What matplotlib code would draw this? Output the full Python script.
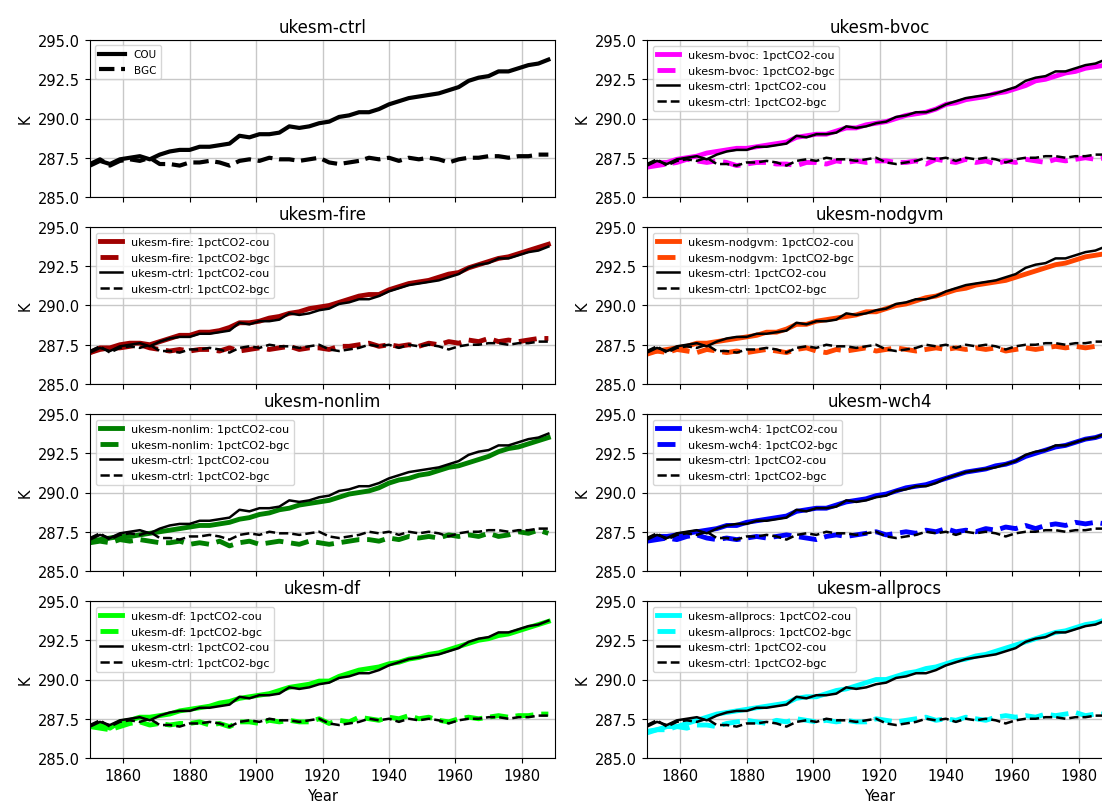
import matplotlib
matplotlib.use("Agg")
import matplotlib.pyplot as plt
import numpy as np

# annual-mean surface temperature (K), read every 3 years starting 1850
year0 = 1850
step = 3

ctrl_cou = [287.0, 287.3, 287.1, 287.4, 287.5, 287.6, 287.4, 287.7, 287.9, 288.0,
            288.0, 288.2, 288.2, 288.3, 288.4, 288.9, 288.8, 289.0, 289.0, 289.1,
            289.5, 289.4, 289.5, 289.7, 289.8, 290.1, 290.2, 290.4, 290.4, 290.6,
            290.9, 291.1, 291.3, 291.4, 291.5, 291.6, 291.8, 292.0, 292.4, 292.6,
            292.7, 293.0, 293.0, 293.2, 293.4, 293.5, 293.75]
ctrl_bgc = [287.1, 287.4, 287.0, 287.3, 287.4, 287.3, 287.5, 287.1, 287.1, 287.0,
            287.2, 287.2, 287.3, 287.2, 287.0, 287.3, 287.4, 287.3, 287.5, 287.4,
            287.4, 287.3, 287.4, 287.5, 287.2, 287.1, 287.2, 287.3, 287.5, 287.4,
            287.5, 287.3, 287.5, 287.4, 287.5, 287.4, 287.2, 287.4, 287.5, 287.5,
            287.6, 287.6, 287.5, 287.6, 287.6, 287.7, 287.7]

bvoc_cou = [287.0, 287.2, 287.2, 287.4, 287.5, 287.6, 287.8, 287.9, 288.0, 288.1,
            288.1, 288.2, 288.3, 288.4, 288.5, 288.8, 288.9, 289.0, 289.0, 289.2,
            289.4, 289.4, 289.6, 289.7, 289.8, 290.0, 290.2, 290.3, 290.4, 290.6,
            290.9, 291.0, 291.2, 291.3, 291.4, 291.6, 291.7, 291.9, 292.1, 292.4,
            292.5, 292.7, 292.9, 293.0, 293.2, 293.3, 293.4]
bvoc_bgc = [286.9, 287.0, 287.1, 287.2, 287.4, 287.3, 287.2, 287.3, 287.2, 287.0,
            287.1, 287.2, 287.2, 287.1, 287.1, 287.0, 287.2, 287.2, 287.1, 287.3,
            287.2, 287.3, 287.2, 287.3, 287.3, 287.2, 287.2, 287.3, 287.1, 287.4,
            287.3, 287.2, 287.4, 287.2, 287.3, 287.1, 287.3, 287.2, 287.4, 287.3,
            287.2, 287.4, 287.3, 287.4, 287.5, 287.4, 287.5]

fire_cou = [287.0, 287.3, 287.3, 287.5, 287.6, 287.6, 287.5, 287.7, 287.9, 288.1,
            288.1, 288.3, 288.3, 288.4, 288.6, 288.9, 288.9, 289.0, 289.2, 289.3,
            289.5, 289.6, 289.8, 289.9, 290.0, 290.2, 290.4, 290.6, 290.7, 290.7,
            291.0, 291.2, 291.4, 291.5, 291.6, 291.8, 292.0, 292.1, 292.4, 292.6,
            292.8, 293.0, 293.1, 293.3, 293.5, 293.7, 293.9]
fire_bgc = [287.0, 287.2, 287.3, 287.3, 287.4, 287.5, 287.3, 287.2, 287.1, 287.2,
            287.1, 287.2, 287.2, 287.1, 287.3, 287.1, 287.2, 287.3, 287.2, 287.3,
            287.4, 287.2, 287.3, 287.3, 287.2, 287.4, 287.4, 287.5, 287.6, 287.4,
            287.5, 287.4, 287.5, 287.4, 287.6, 287.5, 287.7, 287.6, 287.8, 287.7,
            287.9, 287.7, 287.8, 287.7, 287.8, 287.9, 287.9]

nodgvm_cou = [287.0, 287.1, 287.2, 287.3, 287.4, 287.6, 287.6, 287.7, 287.8, 287.9,
              288.0, 288.1, 288.3, 288.3, 288.5, 288.8, 288.8, 289.0, 289.1, 289.2,
              289.3, 289.4, 289.6, 289.6, 289.8, 290.0, 290.1, 290.3, 290.5, 290.6,
              290.8, 291.0, 291.1, 291.3, 291.4, 291.5, 291.6, 291.8, 292.0, 292.2,
              292.4, 292.6, 292.7, 292.9, 293.1, 293.2, 293.3]
nodgvm_bgc = [286.9, 287.1, 287.0, 287.2, 287.1, 287.0, 287.2, 287.1, 287.0, 287.1,
              287.0, 287.1, 287.2, 287.1, 287.0, 287.2, 287.3, 287.1, 287.0, 287.2,
              287.1, 287.2, 287.3, 287.1, 287.2, 287.3, 287.2, 287.1, 287.2, 287.3,
              287.2, 287.3, 287.2, 287.3, 287.2, 287.3, 287.1, 287.2, 287.3, 287.2,
              287.3, 287.4, 287.3, 287.4, 287.3, 287.4, 287.4]

nonlim_cou = [286.9, 287.0, 287.1, 287.2, 287.2, 287.3, 287.4, 287.5, 287.6, 287.7,
              287.8, 287.9, 287.9, 288.0, 288.1, 288.3, 288.4, 288.6, 288.7, 288.9,
              289.0, 289.2, 289.3, 289.4, 289.5, 289.7, 289.9, 290.0, 290.1, 290.3,
              290.6, 290.8, 290.9, 291.1, 291.2, 291.4, 291.6, 291.7, 291.9, 292.1,
              292.3, 292.6, 292.8, 292.9, 293.1, 293.3, 293.5]
nonlim_bgc = [286.8, 286.9, 286.8, 287.0, 286.9, 287.0, 286.9, 286.8, 286.8, 286.9,
              286.7, 286.8, 286.7, 286.9, 286.6, 286.8, 286.9, 286.7, 286.8, 286.9,
              286.8, 286.7, 286.9, 286.8, 286.7, 286.8, 286.9, 287.0, 287.0, 286.9,
              287.1, 287.0, 287.2, 287.1, 287.2, 287.1, 287.3, 287.2, 287.3, 287.2,
              287.4, 287.2, 287.3, 287.5, 287.4, 287.6, 287.4]

wch4_cou = [287.0, 287.2, 287.2, 287.3, 287.4, 287.5, 287.6, 287.7, 287.9, 287.9,
            288.1, 288.2, 288.3, 288.4, 288.5, 288.8, 288.9, 289.0, 289.0, 289.2,
            289.4, 289.5, 289.6, 289.8, 289.9, 290.1, 290.3, 290.4, 290.5, 290.7,
            290.9, 291.1, 291.3, 291.4, 291.5, 291.7, 291.8, 292.0, 292.3, 292.5,
            292.7, 292.9, 293.0, 293.2, 293.4, 293.5, 293.7]
wch4_bgc = [286.9, 287.0, 287.1, 287.0, 287.2, 287.3, 287.1, 287.0, 287.1, 287.0,
            287.1, 287.2, 287.1, 287.2, 287.3, 287.2, 287.1, 287.0, 287.2, 287.3,
            287.2, 287.3, 287.4, 287.5, 287.3, 287.4, 287.5, 287.4, 287.6, 287.5,
            287.7, 287.5, 287.6, 287.5, 287.7, 287.6, 287.8, 287.7, 287.9, 287.7,
            287.9, 288.0, 287.9, 288.1, 288.0, 288.1, 288.0]

df_cou = [287.0, 287.2, 286.9, 287.3, 287.4, 287.6, 287.6, 287.7, 287.8, 288.0,
          288.1, 288.2, 288.3, 288.5, 288.6, 288.8, 288.9, 289.0, 289.1, 289.3,
          289.5, 289.6, 289.7, 289.9, 289.9, 290.2, 290.4, 290.6, 290.7, 290.8,
          291.0, 291.1, 291.3, 291.4, 291.6, 291.7, 291.9, 292.1, 292.3, 292.5,
          292.6, 292.8, 292.9, 293.1, 293.3, 293.5, 293.7]
df_bgc = [287.0, 286.9, 286.8, 287.0, 287.2, 287.3, 287.1, 287.2, 287.1, 287.2,
          287.2, 287.3, 287.1, 287.2, 287.0, 287.3, 287.3, 287.2, 287.4, 287.3,
          287.4, 287.3, 287.3, 287.5, 287.2, 287.4, 287.3, 287.6, 287.5, 287.4,
          287.6, 287.5, 287.7, 287.5, 287.6, 287.4, 287.3, 287.5, 287.6, 287.5,
          287.6, 287.7, 287.6, 287.7, 287.7, 287.8, 287.8]

allprocs_cou = [286.7, 286.8, 287.0, 287.0, 287.2, 287.4, 287.6, 287.8, 287.9, 288.0,
                288.1, 288.2, 288.3, 288.4, 288.5, 288.8, 288.9, 288.9, 289.1, 289.3,
                289.4, 289.6, 289.8, 290.0, 290.0, 290.2, 290.4, 290.5, 290.7, 290.8,
                291.0, 291.2, 291.3, 291.5, 291.6, 291.8, 292.0, 292.2, 292.4, 292.6,
                292.8, 293.0, 293.1, 293.3, 293.5, 293.6, 293.8]
allprocs_bgc = [286.6, 286.8, 286.8, 287.0, 286.9, 287.1, 287.1, 287.0, 287.2, 287.3,
                287.4, 287.3, 287.2, 287.4, 287.3, 287.5, 287.4, 287.3, 287.4, 287.3,
                287.4, 287.3, 287.3, 287.5, 287.4, 287.3, 287.4, 287.5, 287.6, 287.4,
                287.5, 287.4, 287.6, 287.5, 287.4, 287.6, 287.7, 287.6, 287.7, 287.6,
                287.8, 287.7, 287.8, 287.9, 287.7, 287.8, 287.8]

# panel order: left column top->bottom, then right column top->bottom
experiments = ["ukesm-ctrl", "ukesm-fire", "ukesm-nonlim", "ukesm-df",
               "ukesm-bvoc", "ukesm-nodgvm", "ukesm-wch4", "ukesm-allprocs"]
exp_colors = [None, "#a00000", "green", "lime", "magenta", "orangered", "blue", "cyan"]
exp_cou = [None, fire_cou, nonlim_cou, df_cou, bvoc_cou, nodgvm_cou, wch4_cou, allprocs_cou]
exp_bgc = [None, fire_bgc, nonlim_bgc, df_bgc, bvoc_bgc, nodgvm_bgc, wch4_bgc, allprocs_bgc]

xticks = [1860, 1880, 1900, 1920, 1940, 1960, 1980]
yticks = [285.0, 287.5, 290.0, 292.5, 295.0]


def yrs(v):
    return year0 + step * np.arange(len(v))


W, H = 1102, 803
fig = plt.figure(figsize=(W / 100, H / 100), dpi=100)

col_x = [90, 647]
ax_w = 465
ax_h = 157
row_top = [41, 228, 415, 602]

for i, name in enumerate(experiments):
    col = i // 4
    row = i % 4
    ax = fig.add_axes([col_x[col] / W, (H - row_top[row] - ax_h) / H, ax_w / W, ax_h / H])

    if exp_colors[i] is None:
        ax.plot(yrs(ctrl_cou), ctrl_cou, color="black", lw=3, label="COU")
        ax.plot(yrs(ctrl_bgc), ctrl_bgc, color="black", lw=3, ls="--", label="BGC")
        ax.legend(loc="upper left", fontsize=7.5, handlelength=2.5)
    else:
        c = exp_colors[i]
        ax.plot(yrs(exp_cou[i]), exp_cou[i], color=c, lw=3.5, label=name + ": 1pctCO2-cou")
        ax.plot(yrs(exp_bgc[i]), exp_bgc[i], color=c, lw=3.5, ls="--", label=name + ": 1pctCO2-bgc")
        ax.plot(yrs(ctrl_cou), ctrl_cou, color="black", lw=1.8, label="ukesm-ctrl: 1pctCO2-cou")
        ax.plot(yrs(ctrl_bgc), ctrl_bgc, color="black", lw=1.8, ls="--", label="ukesm-ctrl: 1pctCO2-bgc")
        ax.legend(loc="upper left", fontsize=8)

    ax.set_title(name, fontsize=12)
    ax.set_xlim(1850, 1990)
    ax.set_ylim(285, 295)
    ax.set_xticks(xticks)
    ax.set_yticks(yticks)
    ax.set_yticklabels(["%.1f" % t for t in yticks], fontsize=10.5)
    ax.set_ylabel("K", fontsize=10.5)
    ax.grid(True, color="#c8c8c8", lw=1.0)
    if row == 3:
        ax.set_xticklabels([str(t) for t in xticks], fontsize=10.5)
        ax.set_xlabel("Year", fontsize=10.5)
    else:
        ax.set_xticklabels([])

fig.savefig("out.png", dpi=100)
